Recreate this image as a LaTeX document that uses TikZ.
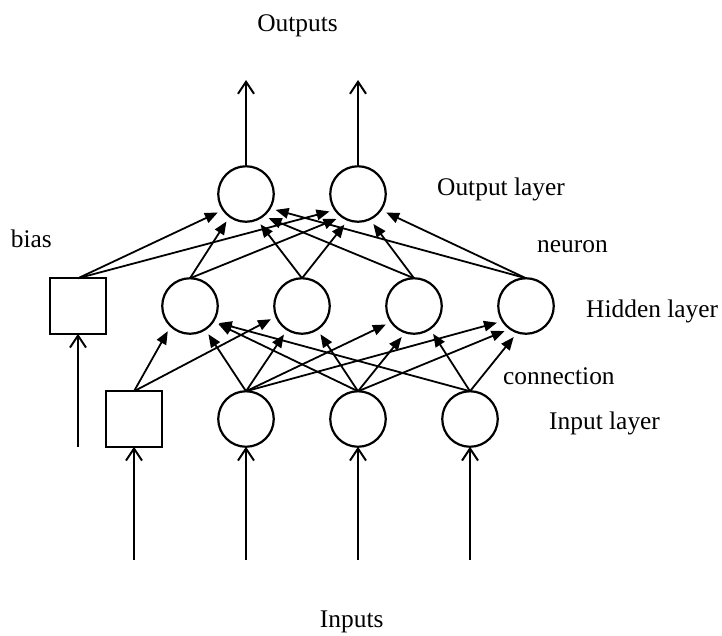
\documentclass[tikz,border=0pt]{standalone}
\usepackage{fontspec}
\setmainfont{Liberation Serif}
\usetikzlibrary{arrows.meta}

\begin{document}
\begin{tikzpicture}[x=1pt,y=-1pt,
  neuron/.style={circle,draw,line width=2.2pt,minimum size=55.5pt,inner sep=0pt,outer sep=0pt},
  biasbox/.style={rectangle,draw,line width=2.2pt,minimum size=55.5pt,inner sep=0pt,outer sep=0pt},
  conn/.style={line width=1.8pt,-{Triangle[length=13pt,width=10.5pt]},shorten >=6pt},
  feed/.style={line width=2pt,-{Straight Barb[length=12pt,width=16pt]}},
  lbl/.style={font=\fontsize{25.4}{30}\selectfont,inner sep=0pt}
]
\useasboundingbox (0,0) rectangle (722,635);

% neurons
\node[neuron] (O1) at (246,194) {};
\node[neuron] (O2) at (358,194) {};
\node[neuron] (H1) at (190,306) {};
\node[neuron] (H2) at (302,306) {};
\node[neuron] (H3) at (414,306) {};
\node[neuron] (H4) at (526,306) {};
\node[neuron] (I1) at (246,419) {};
\node[neuron] (I2) at (358,419) {};
\node[neuron] (I3) at (470,419) {};
% bias units
\node[biasbox] (B1) at (78,306) {};
\node[biasbox] (B2) at (134,419) {};

% free ends of the external arrows
\coordinate (y1) at (246,80);
\coordinate (y2) at (358,80);
\coordinate (b1in) at (78,447);
\coordinate (b2in) at (134,560);
\coordinate (x1) at (246,560);
\coordinate (x2) at (358,560);
\coordinate (x3) at (470,560);

% outputs and inputs
\draw[feed] (O1.north) -- (y1);
\draw[feed] (O2.north) -- (y2);
\draw[feed] (b1in) -- (B1.south);
\draw[feed] (b2in) -- (B2.south);
\draw[feed] (x1) -- (I1.south);
\draw[feed] (x2) -- (I2.south);
\draw[feed] (x3) -- (I3.south);

% hidden -> output connections
\draw[conn] (B1.north) -- (O1.215);
\draw[conn] (B1.north) -- (O2.215);
\draw[conn] (H1.north) -- (O1.234);
\draw[conn] (H1.north) -- (O2.235);
\draw[conn] (H2.north) -- (O1.293);
\draw[conn] (H2.north) -- (O2.249);
\draw[conn] (H3.north) -- (O1.308);
\draw[conn] (H3.north) -- (O2.295);
\draw[conn] (H4.north) -- (O1.329);
\draw[conn] (H4.north) -- (O2.325);

% input -> hidden connections
\draw[conn] (B2.north) -- (H1.226);
\draw[conn] (B2.north) -- (H2.202);
\draw[conn] (I1.north) -- (H1.303);
\draw[conn] (I1.north) -- (H2.238);
\draw[conn] (I1.north) -- (H3.215);
\draw[conn] (I1.north) -- (H4.213);
\draw[conn] (I2.north) -- (H1.326);
\draw[conn] (I2.north) -- (H2.303);
\draw[conn] (I2.north) -- (H3.252);
\draw[conn] (I2.north) -- (H4.235);
\draw[conn] (I3.north) -- (H1.326);
\draw[conn] (I3.north) -- (H3.305);
\draw[conn] (I3.north) -- (H4.252);

% labels
\node[lbl,anchor=base] (tOut) at (297.5,31) {Outputs};
\node[lbl,anchor=base] (tIn) at (351.7,627) {Inputs};
\node[lbl,anchor=base east] (tBias) at (52,247) {bias};
\node[lbl,anchor=base west] (tOL) at (437,195) {Output layer};
\node[lbl,anchor=base west] (tNeu) at (537,252) {neuron};
\node[lbl,anchor=base west] (tHL) at (586,317) {Hidden layer};
\node[lbl,anchor=base west] (tCon) at (503,384) {connection};
\node[lbl,anchor=base west] (tIL) at (549,429) {Input layer};
\end{tikzpicture}
\end{document}
